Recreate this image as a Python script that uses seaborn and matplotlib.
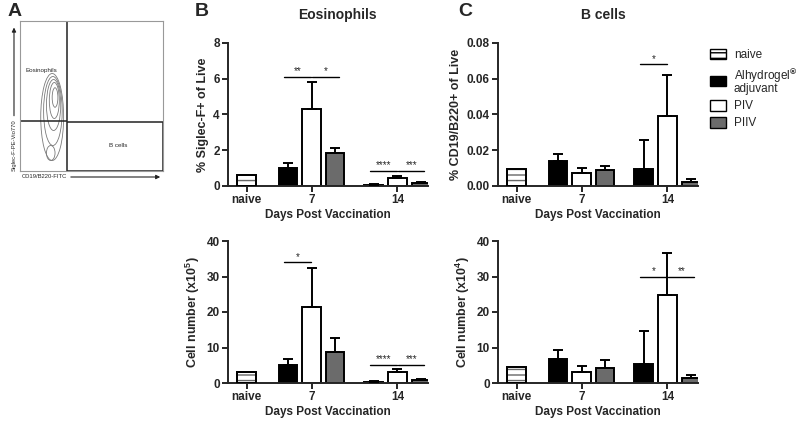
import matplotlib.pyplot as plt
import matplotlib.patches as mpatches
import pandas as pd
import numpy as np
import seaborn as sns

# groups and bar layout
groups = ["naive", "Alhydrogel® adjuvant", "PIV", "PIIV"]
colors = ["white", "black", "white", "#6b6b6b"]
bar_group = ["naive", "Alhydrogel® adjuvant", "PIV", "PIIV",
             "Alhydrogel® adjuvant", "PIV", "PIIV"]
bar_pos = [0, 1.75, 2.75, 3.75, 5.4, 6.4, 7.4]
tick_pos = [0, 2.75, 6.4]
tick_labels = ["naive", "7", "14"]

# values (mean, upper SD)
eos_pct = [0.6, 1.02, 4.28, 1.87, 0.07, 0.42, 0.15]
eos_pct_err = [0, 0.26, 1.52, 0.25, 0.02, 0.13, 0.05]
eos_num = [3.0, 5.0, 21.5, 8.8, 0.4, 3.0, 0.9]
eos_num_err = [0, 1.7, 11.0, 3.9, 0.2, 0.9, 0.3]
b_pct = [0.0093, 0.0138, 0.0071, 0.0092, 0.0095, 0.039, 0.0022]
b_pct_err = [0, 0.004, 0.0032, 0.0022, 0.0165, 0.023, 0.0015]
b_num = [4.5, 6.7, 3.2, 4.3, 5.3, 24.7, 1.3]
b_num_err = [0, 2.6, 1.6, 2.1, 9.3, 11.8, 1.0]

# significance brackets: (bar a, bar b, height, label)
eos_pct_sig = [(1, 2, 6.1, "**"), (2, 3, 6.1, "*"), (4, 5, 0.85, "****"), (5, 6, 0.85, "***")]
eos_num_sig = [(1, 2, 34, "*"), (4, 5, 5.1, "****"), (5, 6, 5.1, "***")]
b_pct_sig = [(4, 5, 0.068, "*")]
b_num_sig = [(4, 5, 30, "*"), (5, 6, 30, "**")]

# panel A gating contours (approximate ellipses, axes fraction)
contour_cx = [0.225, 0.23, 0.235, 0.24, 0.245, 0.215]
contour_cy = [0.36, 0.40, 0.44, 0.47, 0.49, 0.12]
contour_w = [0.16, 0.13, 0.10, 0.07, 0.04, 0.06]
contour_h = [0.58, 0.46, 0.34, 0.24, 0.13, 0.10]

sns.set_style("ticks")
plt.rcParams["font.family"] = ["Liberation Sans", "DejaVu Sans"]
plt.rcParams["font.weight"] = "bold"
plt.rcParams["axes.labelweight"] = "bold"
plt.rcParams["mathtext.fontset"] = "custom"
plt.rcParams["mathtext.rm"] = "Liberation Sans"
plt.rcParams["mathtext.bf"] = "Liberation Sans:bold"
plt.rcParams["hatch.linewidth"] = 1.0

fig = plt.figure(figsize=(8, 4.21), dpi=100)
W, H = 800, 421


def px_axes(x0, y_top, w, h):
    return fig.add_axes([x0 / W, 1 - (y_top + h) / H, w / W, h / H])


def bar_panel(ax, values, errs, sig, ymax, yticks, ylabel, fmt):
    df = pd.DataFrame({"pos": bar_pos, "value": values, "group": bar_group})
    sns.barplot(data=df, x="pos", y="value", hue="group", hue_order=groups,
                palette=dict(zip(groups, colors)), native_scale=True, dodge=False,
                width=0.8, errorbar=None, edgecolor="black", linewidth=1.4,
                legend=False, ax=ax, zorder=2)
    # naive bars: grey stripes, black outline
    for p in list(ax.patches):
        cx = p.get_x() + p.get_width() / 2
        if abs(cx - bar_pos[0]) < 0.01:
            p.set_hatch("---")
            p.set_edgecolor("#666666")
            ax.add_patch(mpatches.Rectangle(p.get_xy(), p.get_width(), p.get_height(),
                                            fill=False, ec="black", lw=1.4, zorder=3))
    e = np.array(errs)
    m = e > 0
    ax.errorbar(np.array(bar_pos)[m], np.array(values)[m],
                yerr=[np.zeros(m.sum()), e[m]], fmt="none", ecolor="black",
                elinewidth=1.4, capsize=3.6, capthick=1.4, zorder=3)
    for a, b, h, lab in sig:
        off_a = 0.03 if bar_group[a] == "PIV" else -0.15
        off_b = -0.03 if bar_group[b] == "PIV" else 0.15
        x0, x1 = bar_pos[a] + off_a, bar_pos[b] + off_b
        ax.plot([x0, x1], [h, h], color="black", lw=1.0, zorder=3)
        ax.annotate(lab, ((x0 + x1) / 2, h), xytext=(0, 0.5), textcoords="offset points",
                    ha="center", va="bottom", fontsize=7, fontweight="normal")
    ax.set_xlim(-0.8, 7.7)
    ax.set_ylim(0, ymax)
    ax.set_yticks(yticks)
    ax.set_yticklabels([fmt.format(t) for t in yticks])
    ax.set_xticks(tick_pos)
    ax.set_xticklabels(tick_labels)
    ax.set_ylabel(ylabel, fontsize=9, labelpad=3)
    ax.set_xlabel("Days Post Vaccination", fontsize=8.5, labelpad=2)
    sns.despine(ax=ax)
    for s in ["left", "bottom"]:
        ax.spines[s].set_linewidth(1.4)
    ax.tick_params(length=4, width=1.4, labelsize=8.5, pad=2)


axBt = px_axes(228, 43, 200, 143)
bar_panel(axBt, eos_pct, eos_pct_err, eos_pct_sig, 8, [0, 2, 4, 6, 8],
          "% Siglec-F+ of Live", "{:g}")
axBb = px_axes(228, 241, 200, 142)
bar_panel(axBb, eos_num, eos_num_err, eos_num_sig, 40, [0, 10, 20, 30, 40],
          r"Cell number (x10$^{\mathbf{5}}$)", "{:g}")
axCt = px_axes(498, 43, 200, 143)
bar_panel(axCt, b_pct, b_pct_err, b_pct_sig, 0.08, [0, 0.02, 0.04, 0.06, 0.08],
          "% CD19/B220+ of Live", "{:.2f}")
axCb = px_axes(498, 241, 200, 142)
bar_panel(axCb, b_num, b_num_err, b_num_sig, 40, [0, 10, 20, 30, 40],
          r"Cell number (x10$^{\mathbf{4}}$)", "{:g}")

# panel A: gating schematic
axA = px_axes(20, 21, 143, 150)
axA.set_xlim(0, 1)
axA.set_ylim(0, 1)
axA.set_xticks([])
axA.set_yticks([])
for s in axA.spines.values():
    s.set_color("#999999")
    s.set_linewidth(0.8)
for cx, cy, w, h in zip(contour_cx, contour_cy, contour_w, contour_h):
    axA.add_patch(mpatches.Ellipse((cx, cy), w, h, fill=False, ec="#7a7a7a", lw=0.6))
axA.add_patch(mpatches.Rectangle((0, 0.333), 0.33, 0.667, fill=False, ec="#222222", lw=1.1))
axA.add_patch(mpatches.Rectangle((0.33, 0), 0.67, 0.327, fill=False, ec="#222222", lw=1.1))
axA.text(0.04, 0.667, "Eosinophils", fontsize=4.5, fontweight="normal", va="center")
axA.text(0.69, 0.167, "B cells", fontsize=4.5, fontweight="normal", ha="center", va="center")
axA.annotate("", xy=(-0.042, 0.975), xytext=(-0.042, 0.35), xycoords="axes fraction",
             arrowprops=dict(arrowstyle="-|>", color="#222222", lw=0.8, mutation_scale=6))
axA.annotate("", xy=(1.0, -0.04), xytext=(0.336, -0.04), xycoords="axes fraction",
             arrowprops=dict(arrowstyle="-|>", color="#222222", lw=0.8, mutation_scale=6))
axA.text(-0.042, 0.173, "Siglec-F-PE-Vio770", rotation=90, fontsize=4.2,
         fontweight="normal", ha="center", va="center", transform=axA.transAxes)
axA.text(0.014, -0.04, "CD19/B220-FITC", fontsize=4.2, fontweight="normal",
         ha="left", va="center", transform=axA.transAxes)

# panel letters and titles
fig.text(8 / W, 1 - 12 / H, "A", fontsize=14, va="center")
fig.text(195 / W, 1 - 12 / H, "B", fontsize=14, va="center")
fig.text(458 / W, 1 - 12 / H, "C", fontsize=14, va="center")
fig.text(337 / W, 1 - 15 / H, "Eosinophils", fontsize=10, ha="center", va="center")
fig.text(603 / W, 1 - 15 / H, "B cells", fontsize=10, ha="center", va="center")

# legend
handles = []
for g, c in zip(groups, colors):
    hatch = "---" if g == "naive" else None
    handles.append(mpatches.Patch(facecolor=c, edgecolor="black", hatch=hatch, lw=1.0))
leg_labels = ["naive", "Alhydrogel$^{®}$\nadjuvant", "PIV", "PIIV"]
leg = fig.legend(handles, leg_labels, loc="upper left", bbox_to_anchor=(705 / W, 1 - 44 / H),
                 frameon=False, prop={"weight": "normal", "size": 8.5}, handlelength=1.4,
                 handleheight=1.0, handletextpad=0.65, labelspacing=0.4, borderaxespad=0)
for t in leg.get_texts():
    t.set_linespacing(0.85)

fig.savefig("out.png", dpi=100)
